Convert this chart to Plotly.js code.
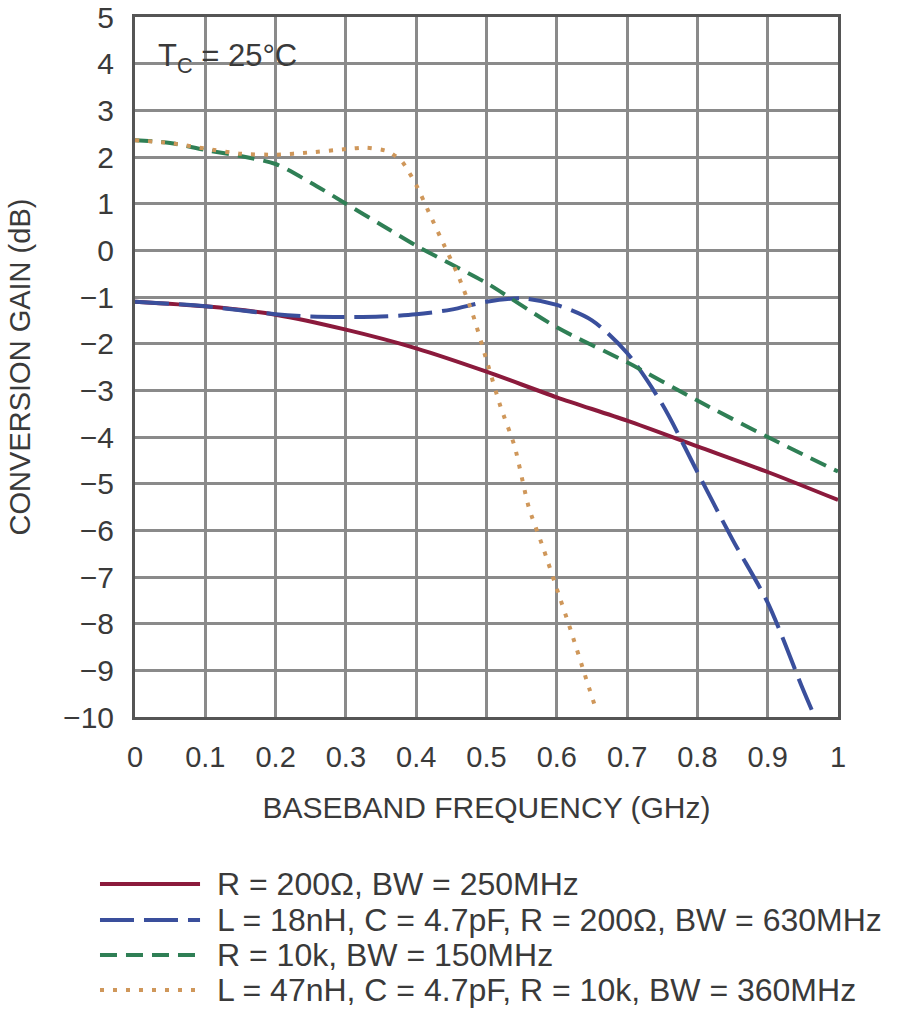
<!DOCTYPE html>
<html>
<head>
<meta charset="utf-8">
<script src="https://cdn.plot.ly/plotly-3.0.1.min.js"></script>
<style>html,body{margin:0;padding:0;background:#fff;}#chart{width:900px;height:1032px;}</style>
</head>
<body>
<div id="chart"></div>
<script>
// Baseband frequency (GHz) and conversion gain (dB) for each network
const freqR200 = [0, 0.1, 0.2, 0.3, 0.4, 0.5, 0.6, 0.7, 0.8, 0.9, 1.0];
const gainR200 = [-1.1, -1.2, -1.38, -1.7, -2.1, -2.6, -3.15, -3.65, -4.2, -4.75, -5.35];

const freqL18 = [0, 0.1, 0.2, 0.25, 0.3, 0.35, 0.4, 0.45, 0.5, 0.55, 0.6, 0.65, 0.7, 0.75, 0.8, 0.85, 0.9, 0.95, 0.967];
const gainL18 = [-1.1, -1.2, -1.37, -1.42, -1.43, -1.42, -1.37, -1.27, -1.1, -1.03, -1.17, -1.5, -2.2, -3.3, -4.75, -6.2, -7.55, -9.4, -10.0];

const freqR10k = [0, 0.05, 0.1, 0.15, 0.2, 0.25, 0.3, 0.35, 0.4, 0.45, 0.5, 0.6, 0.7, 0.8, 0.9, 1.0];
const gainR10k = [2.36, 2.3, 2.15, 2.02, 1.85, 1.45, 1.0, 0.55, 0.1, -0.3, -0.7, -1.65, -2.4, -3.22, -4.0, -4.74];

const freqL47 = [0, 0.05, 0.1, 0.15, 0.2, 0.25, 0.3, 0.33, 0.36, 0.38, 0.4, 0.42, 0.44, 0.46, 0.48, 0.5, 0.52, 0.54, 0.56, 0.58, 0.6, 0.62, 0.64, 0.655];
const gainL47 = [2.36, 2.3, 2.18, 2.07, 2.05, 2.1, 2.17, 2.2, 2.12, 1.9, 1.4, 0.75, 0.1, -0.55, -1.35, -2.35, -3.35, -4.2, -5.5, -6.35, -7.25, -8.15, -9.1, -9.8];

const seriesNames = [
  "R = 200Ω, BW = 250MHz",
  "L = 18nH, C = 4.7pF, R = 200Ω, BW = 630MHz",
  "R = 10k, BW = 150MHz",
  "L = 47nH, C = 4.7pF, R = 10k, BW = 360MHz"
];
const xTickVals = [0, 0.1, 0.2, 0.3, 0.4, 0.5, 0.6, 0.7, 0.8, 0.9, 1];
const yTickVals = [5, 4, 3, 2, 1, 0, -1, -2, -3, -4, -5, -6, -7, -8, -9, -10];

const FONT = '"Liberation Sans", Arial, sans-serif';
const TXT = '#3a3a3a';

const styles = [
  {color: '#8b1a3c', width: 4, dash: 'solid', smoothing: 0.8},
  {color: '#3a4f9c', width: 4, dash: '34px,10px', smoothing: 0.8},
  {color: '#2f7f55', width: 4, dash: '17px,9px', smoothing: 0.8},
  {color: '#cf975a', width: 4, dash: '4px,9px', smoothing: 0.6}
];
const xs = [freqR200, freqL18, freqR10k, freqL47];
const ys = [gainR200, gainL18, gainR10k, gainL47];

const traces = xs.map((x, i) => ({
  x: x, y: ys[i], name: seriesNames[i], mode: 'lines', showlegend: false,
  line: {color: styles[i].color, width: styles[i].width, dash: styles[i].dash,
         shape: 'spline', smoothing: styles[i].smoothing}
}));

// Legend drawn below the plot (paper coordinates; plot spans 17..717 px)
const legendRowsY = [-0.2386, -0.2900, -0.3400, -0.3900];
const shapes = [
  {type: 'rect', xref: 'paper', yref: 'paper', x0: 0.003, x1: 0.263, y0: 0.908, y1: 0.997,
   fillcolor: '#fff', line: {width: 0}, layer: 'between'}
];
const annotations = [
  {xref: 'paper', yref: 'paper', x: 0.03, y: 0.942, xanchor: 'left', yanchor: 'middle',
   text: 'T<sub>C</sub> = 25°C', showarrow: false,
   font: {family: FONT, size: 31, color: TXT}}
];
seriesNames.forEach((name, i) => {
  shapes.push({type: 'line', xref: 'paper', yref: 'paper',
    x0: -0.0498, x1: 0.0925, y0: legendRowsY[i], y1: legendRowsY[i],
    line: {color: styles[i].color, width: styles[i].width, dash: styles[i].dash}});
  annotations.push({xref: 'paper', yref: 'paper', x: 0.114, y: legendRowsY[i],
    xanchor: 'left', yanchor: 'middle', text: name, showarrow: false,
    font: {family: FONT, size: 32, color: TXT}});
});

const layout = {
  width: 900, height: 1032,
  margin: {l: 135, r: 62, t: 17, b: 315},
  paper_bgcolor: '#fff', plot_bgcolor: '#fff',
  font: {family: FONT, color: TXT, size: 30},
  showlegend: false,
  xaxis: {
    range: [0, 1], tickvals: xTickVals, ticktext: xTickVals.map(String),
    showgrid: true, gridcolor: '#8a8a8a', gridwidth: 3, zeroline: false,
    showline: true, mirror: true, linecolor: '#555', linewidth: 3,
    ticks: '', ticklabelstandoff: 12, ticklabeloverflow: 'allow',
    tickfont: {family: FONT, size: 29, color: TXT},
    title: {text: 'BASEBAND FREQUENCY (GHz)', font: {family: FONT, size: 30, color: TXT}, standoff: 26},
    fixedrange: true
  },
  yaxis: {
    range: [-10, 5], tickvals: yTickVals,
    showgrid: true, gridcolor: '#8a8a8a', gridwidth: 3, zeroline: false,
    showline: true, mirror: true, linecolor: '#555', linewidth: 3,
    ticks: '', ticklabelstandoff: 12, ticklabeloverflow: 'allow',
    tickfont: {family: FONT, size: 30, color: TXT},
    title: {text: 'CONVERSION GAIN (dB)', font: {family: FONT, size: 29, color: TXT}, standoff: 24},
    fixedrange: true
  },
  shapes: shapes,
  annotations: annotations
};

Plotly.newPlot('chart', traces, layout, {staticPlot: true, displayModeBar: false});
</script>
</body>
</html>
